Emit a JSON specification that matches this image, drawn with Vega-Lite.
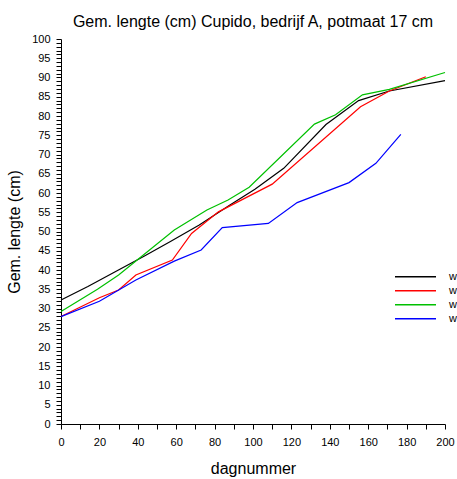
{
  "$schema": "https://vega.github.io/schema/vega-lite/v6.json",
  "width": 384,
  "height": 385,
  "autosize": {"type": "none"},
  "padding": {"left": 61, "top": 39, "right": 12, "bottom": 55},
  "title": {"text": "Gem. lengte (cm) Cupido, bedrijf A, potmaat 17 cm", "font": "Liberation Sans", "fontSize": 16, "fontWeight": "normal", "color": "#000", "anchor": "middle", "baseline": "alphabetic", "offset": -10},
  "config": {"view": {"stroke": null}, "font": "Liberation Sans"},
  "data": {"values": [
    {"series": "w1", "day": 0, "value": 32.2},
    {"series": "w1", "day": 14, "value": 35.7},
    {"series": "w1", "day": 28, "value": 39.5},
    {"series": "w1", "day": 43, "value": 43.5},
    {"series": "w1", "day": 57, "value": 47.4},
    {"series": "w1", "day": 72, "value": 51.7},
    {"series": "w1", "day": 88, "value": 56.9},
    {"series": "w1", "day": 101, "value": 61},
    {"series": "w1", "day": 116, "value": 66.4},
    {"series": "w1", "day": 138, "value": 77.8},
    {"series": "w1", "day": 155, "value": 84},
    {"series": "w1", "day": 171, "value": 86.5},
    {"series": "w1", "day": 200, "value": 89.2},
    {"series": "w2", "day": 0, "value": 27.9},
    {"series": "w2", "day": 20, "value": 32.8},
    {"series": "w2", "day": 30, "value": 34.8},
    {"series": "w2", "day": 39, "value": 38.7},
    {"series": "w2", "day": 58, "value": 42.6},
    {"series": "w2", "day": 68, "value": 49.5},
    {"series": "w2", "day": 82, "value": 55.1},
    {"series": "w2", "day": 110, "value": 62.3},
    {"series": "w2", "day": 156, "value": 82.4},
    {"series": "w2", "day": 171, "value": 86.5},
    {"series": "w2", "day": 190, "value": 90.2},
    {"series": "w3", "day": 0, "value": 29.2},
    {"series": "w3", "day": 19, "value": 35},
    {"series": "w3", "day": 30, "value": 38.7},
    {"series": "w3", "day": 59, "value": 50.4},
    {"series": "w3", "day": 76, "value": 55.6},
    {"series": "w3", "day": 87, "value": 58.2},
    {"series": "w3", "day": 98, "value": 61.5},
    {"series": "w3", "day": 132, "value": 77.9},
    {"series": "w3", "day": 143, "value": 80.3},
    {"series": "w3", "day": 157, "value": 85.5},
    {"series": "w3", "day": 171, "value": 86.9},
    {"series": "w3", "day": 200, "value": 91.3},
    {"series": "w4", "day": 0, "value": 27.9},
    {"series": "w4", "day": 20, "value": 31.9},
    {"series": "w4", "day": 39, "value": 37.4},
    {"series": "w4", "day": 59, "value": 42.3},
    {"series": "w4", "day": 73, "value": 45.2},
    {"series": "w4", "day": 84, "value": 51},
    {"series": "w4", "day": 108, "value": 52.1},
    {"series": "w4", "day": 123, "value": 57.5},
    {"series": "w4", "day": 150, "value": 62.7},
    {"series": "w4", "day": 164, "value": 67.7},
    {"series": "w4", "day": 177, "value": 75.2}
  ]},
  "mark": {"type": "line", "strokeWidth": 1.2},
  "encoding": {
    "x": {"field": "day", "type": "quantitative", "scale": {"domain": [0, 200], "nice": false, "zero": false},
      "axis": {"title": "dagnummer", "titleFontSize": 16, "titleFontWeight": "normal", "titleColor": "#000", "titlePadding": 13,
        "values": [0,10,20,30,40,50,60,70,80,90,100,110,120,130,140,150,160,170,180,190,200],
        "labelExpr": "datum.value % 20 === 0 ? datum.label : ''", "labelOverlap": false, "labelFontSize": 11, "labelColor": "#000", "labelPadding": 7,
        "grid": false, "tickSize": 5, "tickColor": "#000", "domainColor": "#000", "labelFlush": false}},
    "y": {"field": "value", "type": "quantitative", "scale": {"domain": [0, 100], "nice": false, "zero": true},
      "axis": {"title": "Gem. lengte (cm)", "titleFontSize": 16, "titleFontWeight": "normal", "titleColor": "#000", "titlePadding": 9,
        "values": [0,1,2,3,4,5,6,7,8,9,10,11,12,13,14,15,16,17,18,19,20,21,22,23,24,25,26,27,28,29,30,31,32,33,34,35,36,37,38,39,40,41,42,43,44,45,46,47,48,49,50,51,52,53,54,55,56,57,58,59,60,61,62,63,64,65,66,67,68,69,70,71,72,73,74,75,76,77,78,79,80,81,82,83,84,85,86,87,88,89,90,91,92,93,94,95,96,97,98,99,100],
        "labelExpr": "datum.value % 5 === 0 ? datum.label : ''", "labelOverlap": false, "labelFontSize": 11, "labelColor": "#000", "labelPadding": 6,
        "grid": false, "tickSize": 5, "tickColor": "#000", "domainColor": "#000", "labelFlush": false}},
    "color": {"field": "series", "type": "nominal",
      "scale": {"domain": ["w1", "w2", "w3", "w4"], "range": ["#000000", "#ff0000", "#00c000", "#0000ff"]},
      "legend": {"orient": "none", "legendX": 333, "legendY": 231, "title": null, "symbolType": "stroke", "symbolSize": 1681, "symbolStrokeWidth": 1.5,
        "labelExpr": "'w'", "labelFontSize": 11, "labelColor": "#000", "labelOffset": 12, "clipHeight": 13.3, "rowPadding": 0}}
  }
}
